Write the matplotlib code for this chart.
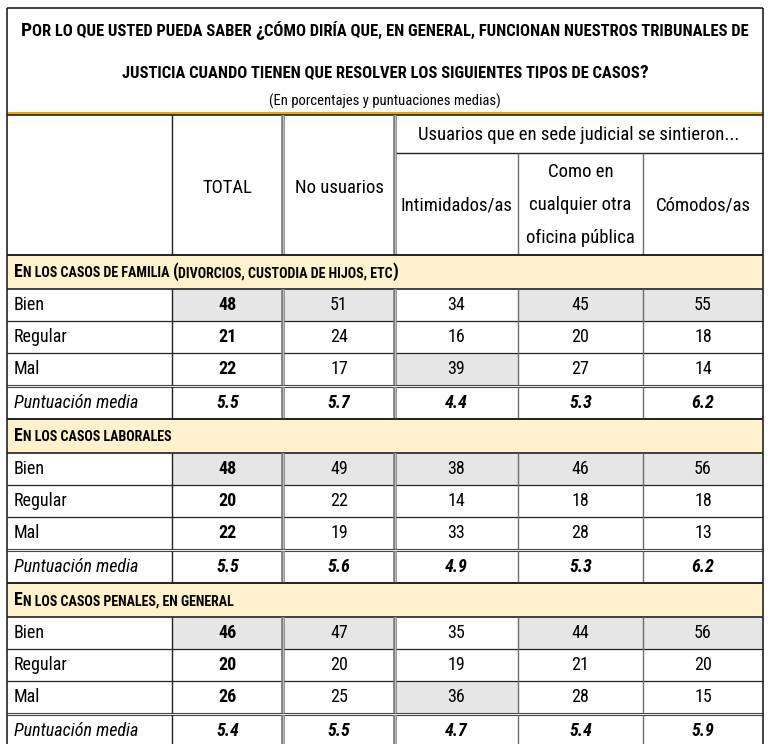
import matplotlib
matplotlib.use("Agg")
import matplotlib.pyplot as plt
from matplotlib import font_manager as fm
from matplotlib.patches import Rectangle

# ---------------- data ----------------
title_l1 = "Por lo que usted pueda saber ¿cómo diría que, en general, funcionan nuestros tribunales de"
title_l2 = "justicia cuando tienen que resolver los siguientes tipos de casos?"
subtitle = "(En porcentajes y puntuaciones medias)"
group_header = "Usuarios que en sede judicial se sintieron..."
columns = ["TOTAL", "No usuarios", "Intimidados/as",
           "Como en\ncualquier otra\noficina pública", "Cómodos/as"]
sections = ["En los casos de familia (divorcios, custodia de hijos, etc)",
            "En los casos laborales",
            "En los casos penales, en general"]
row_labels = ["Bien", "Regular", "Mal"]
media_label = "Puntuación media"

familia = [[48, 51, 34, 45, 55], [21, 24, 16, 20, 18], [22, 17, 39, 27, 14]]
familia_media = [5.5, 5.7, 4.4, 5.3, 6.2]
laborales = [[48, 49, 38, 46, 56], [20, 22, 14, 18, 18], [22, 19, 33, 28, 13]]
laborales_media = [5.5, 5.6, 4.9, 5.3, 6.2]
penales = [[46, 47, 35, 44, 56], [20, 20, 19, 21, 20], [26, 25, 36, 28, 15]]
penales_media = [5.4, 5.5, 4.7, 5.4, 5.9]

section_values = [familia, laborales, penales]
section_medias = [familia_media, laborales_media, penales_media]

# ---------------- font ----------------
names = {f.name for f in fm.fontManager.ttflist}
FAM = "DejaVu Sans"
STRETCH = "normal"
for cand in ["Roboto Condensed", "Liberation Sans Narrow", "Open Sans Condensed",
             "Noto Sans Condensed", "DejaVu Sans Condensed"]:
    if cand in names:
        FAM = cand
        break
else:
    if any(f.name == "DejaVu Sans" and f.stretch in ("condensed", 75) for f in fm.fontManager.ttflist):
        FAM = "DejaVu Sans"
        STRETCH = "condensed"

plt.rcParams["font.family"] = [FAM, "DejaVu Sans"]
plt.rcParams["font.stretch"] = STRETCH

# ---------------- layout ----------------
W, H = 768, 744
fig = plt.figure(figsize=(W / 100, H / 100), dpi=100)
ax = fig.add_axes([0, 0, 1, 1])
ax.set_xlim(0, W)
ax.set_ylim(H, 0)
ax.axis("off")

XL, XR = 7, 763
XC = [7, 172, 283, 395, 518, 643, 763]
Y_TOP = 8
Y_GOLD = 112.5
Y_HEAD = 115
Y_GRP = 153
Y_HEAD_END = 255
SEC_H = 164
ROW_H = [33.5, 32.5, 32, 32, 2, 32]

DARK = "#222222"
GRAY = "#6e6e6e"
YELLOW = "#fff2cc"
SHADE = "#e6e6e6"
GOLD = "#e3ad00"

HEAD_FS = 13.5
DATA_FS = 13

renderer = fig.canvas.get_renderer()


def text_width(s, size, weight="normal", style="normal"):
    t = ax.text(0, 0, s + "x", fontsize=size, fontweight=weight, fontstyle=style)
    w1 = t.get_window_extent(renderer).width
    t.set_text("x")
    w2 = t.get_window_extent(renderer).width
    t.remove()
    return w1 - w2


def smallcaps(x, y, text, big, small, ha="left", weight="bold"):
    runs = []
    for ch in text:
        if ch.isalpha() and ch.islower():
            sz, c = small, ch.upper()
        elif ch in " ,.":
            sz, c = small, ch
        else:
            sz, c = big, ch
        if runs and runs[-1][1] == sz:
            runs[-1][0] += c
        else:
            runs.append([c, sz])
    widths = [text_width(s, sz, weight) for s, sz in runs]
    total = sum(widths)
    start = x - total / 2 if ha == "center" else x
    for (s, sz), w in zip(runs, widths):
        ax.text(start, y, s, fontsize=sz, fontweight=weight, ha="left",
                va="baseline", color="black")
        start += w


def hline(y, x0=XL, x1=XR, color=DARK, lw=1.0):
    ax.plot([x0, x1], [y, y], color=color, lw=lw, solid_capstyle="butt", zorder=3)


def vline(x, y0, y1, color=DARK, lw=1.0):
    ax.plot([x, x], [y0, y1], color=color, lw=lw, solid_capstyle="butt", zorder=3)


def vdouble(x, y0, y1):
    vline(x, y0, y1, color="#7a7a7a", lw=2.6)
    vline(x, y0, y1, color="#d0d0d0", lw=0.6)


# ---------------- title block ----------------
smallcaps(385, 36, title_l1, 14, 11.9, ha="center")
smallcaps(385, 78, title_l2, 14, 11.9, ha="center")
ax.text(385, 101, subtitle, fontsize=10.5, ha="center", va="center")

hline(Y_TOP, lw=1.2)
hline(Y_GOLD, color=GOLD, lw=2.2)
hline(Y_HEAD, lw=1.2)

# ---------------- column headers ----------------
ax.text((XC[1] + XC[2]) / 2, 188, columns[0], fontsize=HEAD_FS, ha="center", va="center")
ax.text((XC[2] + XC[3]) / 2, 188, columns[1], fontsize=HEAD_FS, ha="center", va="center")
ax.text((XC[3] + XC[6]) / 2, 135, group_header, fontsize=HEAD_FS, ha="center", va="center")
for j in range(2, 5):
    ax.text((XC[j + 1] + XC[j + 2]) / 2, 205, columns[j], fontsize=HEAD_FS,
            ha="center", va="center", linespacing=2.05)

hline(Y_GRP, XC[3], XR, lw=1.0)
vline(XC[1], Y_HEAD, Y_HEAD_END)
vdouble(XC[2], Y_HEAD, Y_HEAD_END)
vdouble(XC[3], Y_HEAD, Y_HEAD_END)
vline(XC[4], Y_GRP, Y_HEAD_END, color=GRAY)
vline(XC[5], Y_GRP, Y_HEAD_END, color=GRAY)
hline(Y_HEAD_END, lw=1.2)

# ---------------- body ----------------
for s, (sec, vals, med) in enumerate(zip(sections, section_values, section_medias)):
    y0 = Y_HEAD_END + s * SEC_H
    bounds = [y0]
    for h in ROW_H:
        bounds.append(bounds[-1] + h)
    # section header
    ax.add_patch(Rectangle((XL, bounds[0]), XR - XL, bounds[1] - bounds[0],
                           facecolor=YELLOW, edgecolor="none", zorder=1))
    smallcaps(14, (bounds[0] + bounds[1]) / 2 + 5.5, sec, 12.8, 10.1, ha="left")
    hline(bounds[0], lw=1.2)
    hline(bounds[1], lw=1.2)

    # data rows
    for r in range(3):
        ya, yb = bounds[r + 1], bounds[r + 2]
        yc = (ya + yb) / 2
        ax.text(14, yc, row_labels[r], fontsize=DATA_FS, ha="left", va="center")
        for c in range(5):
            v = vals[r][c]
            xa, xb = XC[c + 1], XC[c + 2]
            if r != 1 and v == max(vals[0][c], vals[2][c]):
                ax.add_patch(Rectangle((xa, ya), xb - xa, yb - ya,
                                       facecolor=SHADE, edgecolor="none", zorder=1))
            ax.text((xa + xb) / 2, yc, str(v), fontsize=DATA_FS, ha="center", va="center",
                    fontweight="bold" if c == 0 else "normal")
        if r < 2:
            hline(yb, lw=0.9)
    # double line
    hline(bounds[4], color="#444444", lw=0.8)
    hline(bounds[5], color="#444444", lw=0.8)
    # media row
    ya, yb = bounds[5], bounds[6]
    yc = (ya + yb) / 2
    ax.text(14, yc, media_label, fontsize=DATA_FS, ha="left", va="center", fontstyle="italic")
    for c in range(5):
        ax.text((XC[c + 1] + XC[c + 2]) / 2, yc, f"{med[c]:.1f}", fontsize=DATA_FS,
                ha="center", va="center", fontweight="bold", fontstyle="italic")
    if s < 2:
        hline(yb, lw=1.2)

    # vertical lines in data area
    for (ya, yb) in [(bounds[1], bounds[4]), (bounds[5], bounds[6])]:
        vline(XC[1], ya, yb)
        vdouble(XC[2], ya, yb)
        vdouble(XC[3], ya, yb)
        vline(XC[4], ya, yb, color=GRAY)
        vline(XC[5], ya, yb, color=GRAY)

# outer borders
vline(XL, Y_TOP, H, lw=1.2)
vline(XR, Y_TOP, H, lw=1.2)

fig.savefig("out.png", dpi=100)
